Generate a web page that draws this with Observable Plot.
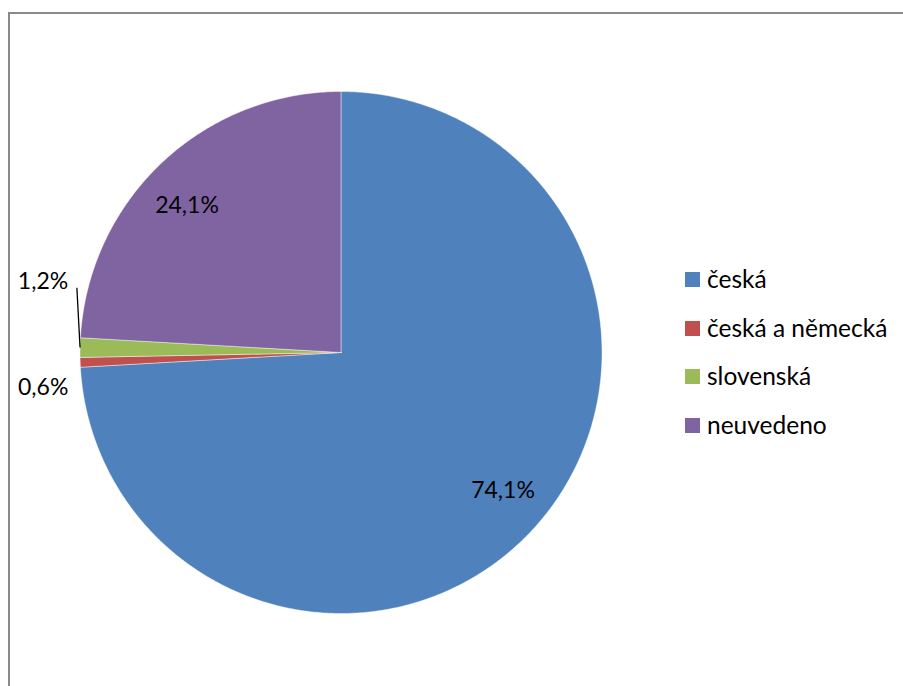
<!DOCTYPE html>
<html>
<head>
<meta charset="utf-8">
<script src="https://cdn.jsdelivr.net/npm/d3@7"></script>
<script src="https://cdn.jsdelivr.net/npm/@observablehq/plot@0.6"></script>
<style>
  html, body { margin: 0; padding: 0; background: #fff; }
  #wrap { position: relative; width: 903px; height: 686px; overflow: hidden; font-family: Lato, "Noto Sans", sans-serif; }
  #frame { position: absolute; left: 8px; top: 12px; width: 2000px; height: 2000px; border-left: 2.5px solid #8a8a8a; border-top: 2.5px solid #8a8a8a; box-sizing: border-box; }
  #chart { position: absolute; left: 0; top: 0; }
  #legend { position: absolute; left: 685px; top: 0; }
  .item { position: absolute; left: 0; white-space: nowrap; font-size: 24.5px; color: #000; }
  .sw { position: absolute; left: 0; width: 15px; height: 15px; }
  .lab { position: absolute; left: 22px; line-height: 1; }
</style>
</head>
<body>
<div id="wrap">
  <div id="frame"></div>
  <div id="chart"></div>
  <div id="legend"></div>
</div>
<script>
const categories = ["česká", "česká a německá", "slovenská", "neuvedeno"];
const values = [74.1, 0.6, 1.2, 24.1];
const labels = ["74,1%", "0,6%", "1,2%", "24,1%"];
const colors = ["#4F81BD", "#C0504D", "#9BBB59", "#8064A2"];

// Slice geometry from the values (angles clockwise from 12 o'clock)
const total = d3.sum(values);
let acc = 0;
const slices = values.map((v, i) => {
  const a0 = acc / total * 2 * Math.PI;
  acc += v;
  const a1 = acc / total * 2 * Math.PI;
  return {category: categories[i], label: labels[i], a0, a1, mid: (a0 + a1) / 2};
});
const pt = (a, r) => ({x: r * Math.sin(a), y: r * Math.cos(a)});

const polys = [];
for (const s of slices) {
  polys.push({category: s.category, ...pt(0, 0)});
  const n = Math.max(2, Math.ceil((s.a1 - s.a0) / (Math.PI / 360)));
  for (let k = 0; k <= n; k++) {
    const a = s.a0 + (s.a1 - s.a0) * k / n;
    polys.push({category: s.category, ...pt(a, 1)});
  }
  polys.push({category: s.category, ...pt(0, 0)});
}

// Label placement: big slices inside, small slices outside
const rot = -3 * Math.PI / 180;
const inside = slices.filter(s => s.a1 - s.a0 > 0.3).map(s => ({label: s.label, ...pt(s.mid + rot, 0.815)}));
const outside = slices.filter(s => s.a1 - s.a0 <= 0.3);
const outLabels = outside.map(s => {
  const p = pt(s.mid, 1.142);
  const dy = s.category === "slovenská" ? -65 : 24;
  return {label: s.label, x: p.x, y: p.y, dy};
});
const green = slices[2];
const edge = pt(green.mid, 1.0);
const leader = [{x1: edge.x, y1: edge.y, x2: -1.012, y2: 0.248}];

const cx = 340.5, cy = 352, R = 261;
const plot = Plot.plot({
  width: 903,
  height: 686,
  margin: 0,
  x: {domain: [-1, 1], range: [cx - R, cx + R], axis: null},
  y: {domain: [-1, 1], range: [cy + R, cy - R], axis: null},
  color: {domain: categories, range: colors},
  style: {fontFamily: "Lato, 'Noto Sans', sans-serif", background: "transparent"},
  marks: [
    Plot.line(polys, {x: "x", y: "y", z: "category", fill: "category", stroke: "rgba(255,255,255,0.55)", strokeWidth: 0.8, curve: "linear-closed"}),
    Plot.text(inside, {x: "x", y: "y", text: "label", fontSize: 23, fill: "#000"}),
    Plot.link(leader, {x1: "x1", y1: "y1", x2: "x2", y2: "y2", stroke: "#000", strokeWidth: 1.3}),
    ...outLabels.map(d => Plot.text([d], {x: "x", y: "y", text: "label", dy: d.dy, fontSize: 23, fill: "#000"}))
  ]
});
document.getElementById("chart").appendChild(plot);

// Legend
const legend = document.getElementById("legend");
categories.forEach((c, i) => {
  const top = 272 + i * 48.7;
  const item = document.createElement("div");
  item.className = "item";
  item.style.top = top + "px";
  const sw = document.createElement("div");
  sw.className = "sw";
  sw.style.background = colors[i];
  const lab = document.createElement("div");
  lab.className = "lab";
  lab.style.top = "-5px";
  lab.textContent = c;
  item.appendChild(sw);
  item.appendChild(lab);
  legend.appendChild(item);
});
</script>
</body>
</html>
